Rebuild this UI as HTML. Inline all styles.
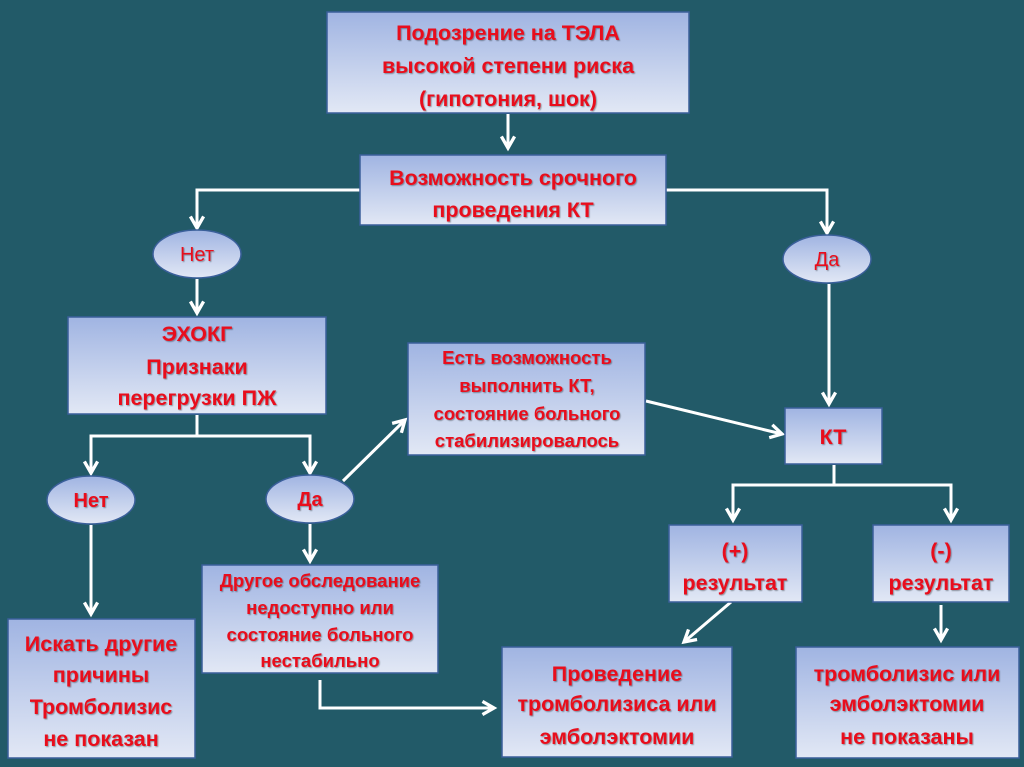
<!DOCTYPE html>
<html><head><meta charset="utf-8"><style>
html,body{margin:0;padding:0;background:#225a68;}
svg{display:block}
text{font-family:"Liberation Sans","DejaVu Sans",sans-serif;font-weight:bold;fill:#e8101c;text-anchor:middle;}
.s text{filter:url(#sh)}
</style></head><body>
<svg width="1024" height="767" viewBox="0 0 1024 767" xmlns="http://www.w3.org/2000/svg">
<defs>
<linearGradient id="g" x1="0" y1="0" x2="0" y2="1">
<stop offset="0" stop-color="#a0b4e2"/><stop offset="1" stop-color="#e2e8f5"/>
</linearGradient>
<marker id="a" viewBox="0 0 10 10" refX="8" refY="5" markerWidth="5.5" markerHeight="5.5" orient="auto">
<path d="M1,1 L8,5 L1,9" fill="none" stroke="#fff" stroke-width="2"/>
</marker>
<filter id="sh" x="-10%" y="-30%" width="120%" height="160%">
<feDropShadow dx="1" dy="1" stdDeviation="0.6" flood-color="#000" flood-opacity="0.35"/>
</filter>
</defs>
<rect width="1024" height="767" fill="#225a68"/>
<g stroke="#fff" stroke-width="3" fill="none">
<path d="M508,114 V148" marker-end="url(#a)"/>
<path d="M360,190 H197 V228" marker-end="url(#a)"/>
<path d="M666,190 H827 V233" marker-end="url(#a)"/>
<path d="M197,279 V313" marker-end="url(#a)"/>
<path d="M829,284 V404" marker-end="url(#a)"/>
<path d="M197,415 V436 H91 V473" marker-end="url(#a)"/>
<path d="M197,436 H310 V473"  marker-end="url(#a)"/>
<path d="M343,481 L405,420" marker-end="url(#a)"/>
<path d="M646,401 L782,434" marker-end="url(#a)"/>
<path d="M91,525 V614" marker-end="url(#a)"/>
<path d="M310,524 V561" marker-end="url(#a)"/>
<path d="M834,465 V485 H733 V520" marker-end="url(#a)"/>
<path d="M834,485 H951 V520" marker-end="url(#a)"/>
<path d="M731,602 L684,642" marker-end="url(#a)"/>
<path d="M941,605 V640" marker-end="url(#a)"/>
<path d="M320,680 V708 H494" marker-end="url(#a)"/>
</g>
<g fill="url(#g)" stroke="#3a5f9a" stroke-width="1.5">
<rect x="327" y="12" width="362" height="101"/>
<rect x="360" y="155" width="306" height="70"/>
<rect x="68" y="317" width="258" height="97"/>
<rect x="408" y="343" width="237" height="112"/>
<rect x="785" y="408" width="97" height="56"/>
<rect x="202" y="565" width="236" height="108"/>
<rect x="8" y="619" width="187" height="139"/>
<rect x="669" y="525" width="133" height="77"/>
<rect x="873" y="525" width="136" height="77"/>
<rect x="502" y="647" width="230" height="110"/>
<rect x="796" y="647" width="223" height="111"/>
<ellipse cx="197" cy="254" rx="44" ry="24"/>
<ellipse cx="827" cy="259" rx="44" ry="24"/>
<ellipse cx="91" cy="500" rx="44" ry="24"/>
<ellipse cx="310" cy="499" rx="44" ry="24"/>
</g>
<g class="s" font-size="21.5">
<text x="508" y="40">Подозрение на ТЭЛА</text>
<text x="508" y="73">высокой степени риска</text>
<text x="508" y="106">(гипотония, шок)</text>
<text x="513" y="185">Возможность срочного</text>
<text x="513" y="217">проведения КТ</text>
<text x="197" y="341">ЭХОКГ</text>
<text x="197" y="374">Признаки</text>
<text x="197" y="405">перегрузки ПЖ</text>
<text x="833" y="444">КТ</text>
<text x="735" y="558">(+)</text>
<text x="735" y="590">результат</text>
<text x="941" y="558">(-)</text>
<text x="941" y="590">результат</text>
<text x="101" y="651">Искать другие</text>
<text x="101" y="682">причины</text>
<text x="101" y="714">Тромболизис</text>
<text x="101" y="746">не показан</text>
<text x="617" y="681">Проведение</text>
<text x="617" y="711">тромболизиса или</text>
<text x="617" y="744">эмболэктомии</text>
<text x="907" y="681">тромболизис или</text>
<text x="907" y="711">эмболэктомии</text>
<text x="907" y="744">не показаны</text>
</g>
<g class="s" font-size="20">
<text x="197" y="261" style="font-weight:normal">Нет</text>
<text x="827" y="266" style="font-weight:normal">Да</text>
<text x="91" y="507">Нет</text>
<text x="310" y="506">Да</text>
</g>
<g class="s" font-size="18.5">
<text x="527" y="364">Есть возможность</text>
<text x="527" y="392">выполнить КТ,</text>
<text x="527" y="420">состояние больного</text>
<text x="527" y="447">стабилизировалось</text>
<text x="320" y="587">Другое обследование</text>
<text x="320" y="614">недоступно или</text>
<text x="320" y="641">состояние больного</text>
<text x="320" y="667">нестабильно</text>
</g>
</svg>
</body></html>
